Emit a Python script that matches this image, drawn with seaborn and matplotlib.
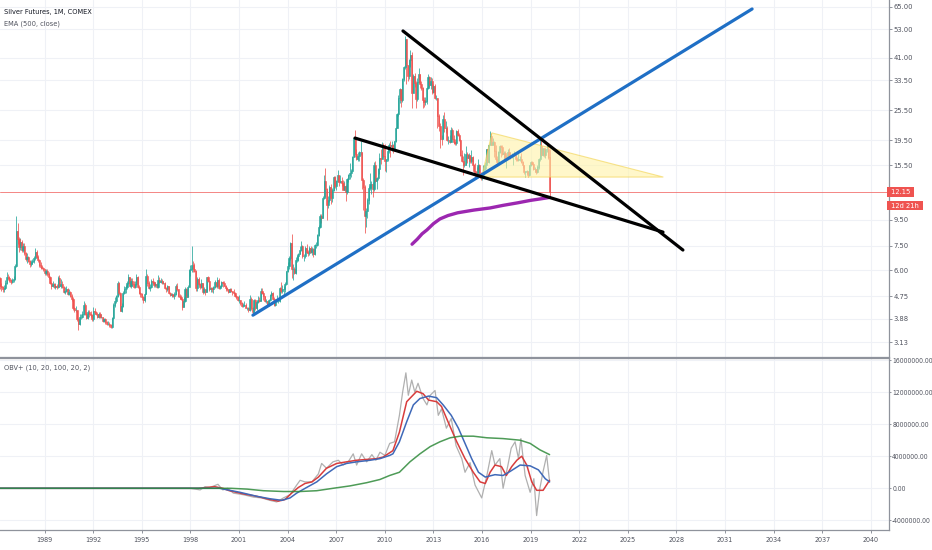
import numpy as np
import pandas as pd
import matplotlib
matplotlib.use("Agg")
import matplotlib.pyplot as plt
import matplotlib.transforms as mtransforms
from matplotlib import font_manager
from matplotlib.ticker import NullLocator
import seaborn as sns

# Monthly silver futures candles, Jan 1986 .. Mar 2020 (open = previous close)
start_year = 1986
closes = [
    6.05, 5.85, 5.60, 5.20, 5.15, 5.05, 5.10, 5.35, 5.65, 5.60, 5.50, 5.40,  # 1986
    5.50, 5.55, 6.25, 8.60, 7.95, 7.40, 7.75, 7.20, 7.45, 7.00, 6.65, 6.75,  # 1987
    6.55, 6.35, 6.45, 6.50, 6.70, 7.10, 6.80, 6.60, 6.30, 6.20, 6.15, 6.05,  # 1988
    5.85, 5.95, 5.80, 5.65, 5.35, 5.20, 5.30, 5.15, 5.20, 5.15, 5.60, 5.20,  # 1989
    5.30, 5.15, 4.95, 5.00, 5.05, 4.85, 4.95, 4.75, 4.65, 4.25, 4.20, 4.20,  # 1990
    3.85, 3.70, 3.95, 3.95, 4.05, 4.40, 4.05, 3.90, 4.10, 4.05, 4.00, 3.85,  # 1991
    4.15, 4.10, 4.05, 3.95, 4.05, 3.95, 3.95, 3.80, 3.85, 3.75, 3.70, 3.70,  # 1992
    3.65, 3.60, 3.90, 4.40, 4.55, 4.75, 5.35, 4.90, 4.15, 4.35, 4.90, 5.05,  # 1993
    5.15, 5.35, 5.65, 5.20, 5.45, 5.30, 5.15, 5.30, 5.65, 5.15, 4.90, 4.85,  # 1994
    4.70, 4.60, 4.85, 5.70, 5.35, 5.10, 5.15, 5.45, 5.40, 5.25, 5.30, 5.15,  # 1995
    5.50, 5.40, 5.45, 5.35, 5.35, 5.10, 5.05, 5.20, 4.90, 4.80, 4.85, 4.75,  # 1996
    4.85, 5.20, 5.05, 4.75, 4.70, 4.65, 4.30, 4.55, 5.05, 4.70, 5.15, 6.00,  # 1997
    6.05, 6.30, 6.05, 5.95, 5.10, 5.55, 5.30, 5.15, 5.35, 4.95, 5.05, 4.95,  # 1998
    5.65, 5.45, 5.05, 5.10, 5.05, 5.15, 5.40, 5.20, 5.50, 5.10, 5.20, 5.40,  # 1999
    5.35, 5.20, 5.10, 5.05, 4.95, 5.05, 5.00, 4.95, 4.90, 4.75, 4.70, 4.60,  # 2000
    4.60, 4.45, 4.35, 4.40, 4.40, 4.25, 4.25, 4.20, 4.65, 4.25, 4.10, 4.60,  # 2001
    4.25, 4.50, 4.60, 4.55, 5.00, 4.90, 4.75, 4.55, 4.55, 4.40, 4.60, 4.80,  # 2002
    4.90, 4.65, 4.40, 4.55, 4.55, 4.55, 5.10, 5.00, 5.05, 5.05, 5.30, 5.95,  # 2003
    6.25, 6.70, 7.70, 6.05, 6.10, 5.85, 6.60, 6.85, 6.95, 7.20, 7.45, 6.85,  # 2004
    6.85, 7.35, 7.10, 7.00, 7.35, 7.10, 7.25, 6.95, 7.55, 7.55, 8.25, 8.90,  # 2005
    9.80, 9.60, 11.50, 13.50, 12.50, 10.80, 11.30, 12.80, 11.50, 12.40, 14.00, 12.90,  # 2006
    13.45, 14.25, 13.30, 13.50, 13.20, 12.45, 12.90, 12.15, 13.70, 14.25, 14.50, 14.80,  # 2007
    16.80, 19.80, 17.20, 16.50, 16.90, 17.50, 17.50, 13.60, 12.80, 9.80, 10.30, 11.30,  # 2008
    12.60, 13.10, 13.10, 12.55, 15.60, 13.50, 13.80, 15.00, 16.60, 16.40, 18.60, 16.90,  # 2009
    16.20, 16.40, 17.60, 18.60, 18.40, 18.70, 18.00, 19.40, 21.80, 24.70, 28.40, 30.90,  # 2010
    27.90, 34.00, 37.80, 48.60, 38.30, 34.70, 40.10, 41.90, 29.90, 34.90, 32.70, 28.20,  # 2011
    33.00, 35.50, 32.50, 31.20, 27.90, 27.50, 27.80, 31.20, 34.60, 32.20, 33.40, 30.00,  # 2012
    31.80, 28.40, 28.40, 24.20, 22.20, 19.70, 19.60, 23.60, 21.70, 21.80, 19.50, 19.50,  # 2013
    19.20, 21.40, 19.70, 19.10, 19.00, 21.10, 20.40, 19.50, 17.10, 16.20, 15.50, 15.50,  # 2014
    17.20, 16.60, 17.00, 16.10, 16.80, 15.60, 14.70, 14.60, 14.50, 15.60, 14.10, 13.80,  # 2015
    14.20, 15.00, 15.50, 17.90, 16.00, 18.70, 20.30, 18.70, 19.20, 17.70, 16.50, 16.00,  # 2016
    17.50, 18.40, 18.30, 17.20, 17.30, 16.60, 16.60, 17.50, 16.70, 16.70, 16.90, 17.10,  # 2017
    17.30, 16.50, 16.30, 16.40, 16.40, 16.00, 15.50, 14.60, 14.70, 14.70, 14.20, 15.50,  # 2018
    16.00, 15.70, 15.00, 15.00, 14.60, 15.30, 16.40, 18.40, 17.00, 18.10, 17.00, 17.90,  # 2019
    18.00, 16.80, 12.15,  # 2020
]
highs = [
    6.25, 6.10, 5.95, 5.65, 5.35, 5.20, 5.25, 5.50, 5.90, 5.80, 5.70, 5.55,  # 1986
    5.60, 5.70, 6.35, 9.80, 9.20, 8.10, 8.05, 7.90, 7.70, 7.65, 7.10, 7.00,  # 1987
    6.85, 6.60, 6.60, 6.65, 6.85, 7.35, 7.20, 6.90, 6.65, 6.45, 6.30, 6.20,  # 1988
    6.10, 6.10, 6.05, 5.90, 5.70, 5.40, 5.45, 5.35, 5.35, 5.30, 5.70, 5.75,  # 1989
    5.55, 5.45, 5.20, 5.15, 5.20, 5.10, 5.05, 5.00, 4.85, 4.70, 4.30, 4.35,  # 1990
    4.20, 3.90, 4.05, 4.05, 4.15, 4.55, 4.45, 4.10, 4.20, 4.20, 4.15, 4.05,  # 1991
    4.30, 4.25, 4.15, 4.10, 4.10, 4.10, 4.05, 3.95, 3.90, 3.90, 3.80, 3.80,  # 1992
    3.75, 3.70, 3.95, 4.45, 4.70, 4.80, 5.45, 5.40, 4.95, 4.45, 5.00, 5.20,  # 1993
    5.25, 5.45, 5.80, 5.65, 5.60, 5.60, 5.45, 5.45, 5.80, 5.70, 5.25, 4.95,  # 1994
    4.90, 4.75, 4.90, 6.10, 5.80, 5.45, 5.30, 5.55, 5.60, 5.45, 5.40, 5.35,  # 1995
    5.75, 5.65, 5.60, 5.55, 5.45, 5.40, 5.15, 5.25, 5.20, 4.95, 4.90, 4.85,  # 1996
    4.95, 5.30, 5.35, 5.05, 4.85, 4.80, 4.65, 4.70, 5.15, 5.10, 5.25, 6.10,  # 1997
    6.30, 7.50, 6.50, 6.40, 6.00, 5.65, 5.65, 5.35, 5.55, 5.35, 5.15, 5.05,  # 1998
    5.65, 5.70, 5.50, 5.15, 5.15, 5.20, 5.50, 5.40, 5.65, 5.60, 5.25, 5.45,  # 1999
    5.45, 5.45, 5.25, 5.15, 5.05, 5.10, 5.10, 5.00, 5.05, 4.95, 4.80, 4.75,  # 2000
    4.80, 4.60, 4.50, 4.45, 4.55, 4.45, 4.30, 4.30, 4.80, 4.70, 4.30, 4.65,  # 2001
    4.65, 4.55, 4.75, 4.70, 5.10, 5.10, 4.95, 4.70, 4.65, 4.55, 4.65, 4.85,  # 2002
    5.00, 4.95, 4.70, 4.60, 4.80, 4.65, 5.15, 5.40, 5.25, 5.20, 5.40, 5.99,  # 2003
    6.45, 6.85, 7.75, 8.30, 6.35, 6.20, 6.75, 6.95, 7.05, 7.45, 7.80, 7.55,  # 2004
    6.95, 7.50, 7.60, 7.20, 7.45, 7.50, 7.40, 7.35, 7.60, 7.75, 8.35, 9.05,  # 2005
    9.95, 10.00, 11.80, 14.20, 15.20, 12.60, 11.80, 13.00, 13.10, 12.60, 14.10, 14.10,  # 2006
    13.55, 14.90, 14.20, 14.20, 13.90, 13.55, 13.50, 13.00, 13.80, 14.40, 15.80, 15.00,  # 2007
    16.90, 20.00, 21.30, 18.00, 17.50, 17.70, 19.40, 17.50, 13.80, 13.00, 10.50, 11.50,  # 2008
    12.90, 14.50, 13.50, 13.40, 16.00, 16.20, 14.00, 15.10, 17.40, 17.90, 19.20, 18.90,  # 2009
    18.80, 16.50, 17.90, 19.00, 19.40, 19.40, 18.75, 19.40, 21.90, 24.90, 29.30, 31.30,  # 2010
    31.00, 34.20, 38.20, 49.80, 48.50, 38.60, 40.50, 44.20, 43.40, 35.30, 35.70, 33.20,  # 2011
    34.10, 37.50, 35.50, 33.20, 31.40, 28.90, 28.70, 31.60, 35.40, 34.90, 34.40, 34.20,  # 2012
    32.50, 32.30, 29.20, 28.40, 24.60, 22.70, 20.50, 24.50, 25.10, 23.10, 22.10, 20.20,  # 2013
    20.50, 22.00, 21.80, 20.40, 19.60, 21.30, 21.60, 20.70, 19.60, 17.80, 16.90, 17.30,  # 2014
    18.50, 17.50, 17.30, 17.10, 17.80, 16.90, 15.70, 15.80, 15.30, 16.50, 15.70, 14.60,  # 2015
    14.60, 15.60, 16.00, 18.00, 17.80, 18.80, 21.20, 20.70, 19.80, 19.30, 18.70, 16.90,  # 2016
    17.60, 18.60, 18.60, 18.70, 17.60, 17.70, 17.00, 17.90, 18.20, 17.50, 17.40, 17.20,  # 2017
    17.70, 17.40, 16.80, 17.40, 16.90, 17.30, 16.20, 15.50, 14.80, 14.90, 14.80, 15.60,  # 2018
    16.20, 16.20, 15.80, 15.30, 14.90, 15.50, 16.60, 19.60, 19.70, 18.20, 18.20, 18.00,  # 2019
    18.90, 18.90, 17.90,  # 2020
]
lows = [
    5.85, 5.75, 5.50, 5.05, 5.00, 4.95, 4.95, 5.05, 5.30, 5.50, 5.40, 5.30,  # 1986
    5.35, 5.40, 5.50, 6.20, 7.60, 7.10, 7.20, 7.10, 7.10, 6.90, 6.55, 6.40,  # 1987
    6.45, 6.20, 6.25, 6.35, 6.40, 6.60, 6.70, 6.45, 6.20, 6.05, 6.05, 5.95,  # 1988
    5.75, 5.75, 5.70, 5.55, 5.30, 5.05, 5.15, 5.10, 5.05, 5.05, 5.10, 5.15,  # 1989
    5.10, 5.10, 4.90, 4.85, 4.95, 4.80, 4.80, 4.70, 4.55, 4.20, 4.10, 4.10,  # 1990
    3.80, 3.50, 3.65, 3.85, 3.90, 4.00, 4.00, 3.85, 3.85, 3.95, 3.95, 3.80,  # 1991
    3.80, 4.05, 4.00, 3.90, 3.90, 3.90, 3.90, 3.75, 3.75, 3.70, 3.65, 3.65,  # 1992
    3.60, 3.55, 3.55, 3.85, 4.30, 4.45, 4.70, 4.80, 4.15, 4.10, 4.30, 4.85,  # 1993
    4.90, 5.05, 5.30, 5.15, 5.10, 5.20, 5.10, 5.10, 5.25, 5.10, 4.85, 4.70,  # 1994
    4.60, 4.45, 4.50, 4.85, 5.20, 5.05, 5.00, 5.10, 5.30, 5.15, 5.15, 5.10,  # 1995
    5.10, 5.35, 5.35, 5.30, 5.30, 5.05, 4.95, 5.00, 4.85, 4.75, 4.70, 4.70,  # 1996
    4.65, 4.80, 5.00, 4.70, 4.65, 4.60, 4.20, 4.30, 4.50, 4.70, 4.70, 5.15,  # 1997
    5.70, 5.90, 5.90, 5.90, 5.00, 5.00, 5.25, 5.05, 5.10, 4.85, 4.90, 4.80,  # 1998
    4.95, 5.40, 5.00, 4.95, 4.95, 4.90, 5.10, 5.15, 5.10, 5.05, 5.05, 5.15,  # 1999
    5.15, 5.20, 5.00, 5.00, 4.90, 4.95, 4.95, 4.80, 4.85, 4.70, 4.65, 4.55,  # 2000
    4.45, 4.40, 4.30, 4.30, 4.35, 4.25, 4.20, 4.10, 4.15, 4.20, 4.05, 4.10,  # 2001
    4.20, 4.20, 4.45, 4.50, 4.55, 4.85, 4.60, 4.50, 4.45, 4.35, 4.35, 4.55,  # 2002
    4.75, 4.60, 4.35, 4.35, 4.50, 4.45, 4.50, 4.90, 4.90, 4.85, 4.95, 5.25,  # 2003
    5.90, 6.10, 6.60, 5.60, 5.50, 5.80, 5.80, 6.45, 6.55, 6.95, 7.15, 6.70,  # 2004
    6.50, 6.70, 7.05, 6.85, 6.90, 7.00, 6.90, 6.75, 6.90, 7.35, 7.45, 8.15,  # 2005
    8.80, 9.20, 9.60, 11.45, 11.60, 9.50, 10.50, 11.10, 10.90, 11.10, 12.30, 12.60,  # 2006
    12.40, 13.40, 12.90, 13.20, 12.90, 12.40, 12.40, 11.20, 12.00, 13.40, 13.70, 13.90,  # 2007
    14.70, 16.70, 16.80, 16.30, 16.20, 16.10, 17.00, 12.50, 10.40, 8.40, 8.90, 9.60,  # 2008
    10.90, 12.40, 12.00, 11.70, 12.30, 13.40, 12.50, 13.60, 14.30, 15.70, 16.40, 16.70,  # 2009
    14.80, 14.60, 16.10, 17.40, 16.80, 17.60, 17.40, 17.60, 19.10, 21.80, 24.20, 27.20,  # 2010
    26.30, 27.40, 33.30, 37.00, 32.30, 33.20, 34.00, 37.60, 26.10, 30.10, 31.50, 26.10,  # 2011
    27.80, 32.80, 31.20, 30.60, 26.10, 26.20, 26.70, 27.10, 30.90, 31.50, 31.00, 29.70,  # 2012
    29.90, 28.20, 27.90, 21.80, 21.10, 18.20, 18.70, 19.60, 21.00, 20.70, 19.40, 18.80,  # 2013
    19.00, 19.10, 19.60, 18.80, 18.70, 18.60, 20.20, 19.30, 16.90, 16.00, 14.20, 15.30,  # 2014
    15.60, 15.90, 15.30, 15.90, 15.80, 15.50, 14.40, 14.00, 14.30, 14.40, 13.90, 13.60,  # 2015
    13.60, 13.90, 14.90, 15.00, 15.80, 15.90, 18.60, 18.60, 18.60, 16.70, 16.30, 15.60,  # 2016
    15.90, 17.30, 16.80, 17.00, 16.20, 16.50, 15.20, 16.50, 16.60, 16.50, 16.60, 15.60,  # 2017
    16.90, 16.20, 16.10, 16.20, 16.10, 15.90, 15.20, 14.30, 13.90, 14.30, 13.90, 14.10,  # 2018
    15.40, 15.50, 14.90, 14.60, 14.30, 14.50, 15.00, 16.20, 16.90, 16.90, 16.80, 16.60,  # 2019
    17.50, 16.50, 11.60,  # 2020
]
last_price = 12.15
countdown = "12d 21h"

# EMA(500, close)
ema_dates = [2011.68, 2012.0, 2012.3, 2012.6, 2013.0, 2013.4, 2013.9, 2014.5,
             2015.5, 2016.5, 2017.3, 2018.2, 2019.0, 2019.6, 2020.17]
ema_values = [7.6, 7.95, 8.35, 8.65, 9.15, 9.55, 9.85, 10.1,
              10.35, 10.55, 10.8, 11.05, 11.3, 11.45, 11.6]

# hand drawn trend lines and triangle (date, price)
blue_dates, blue_prices = [2001.86, 2032.67], [4.0, 63.8]
upper_dates, upper_prices = [2011.12, 2028.4], [52.3, 7.21]
lower_dates, lower_prices = [2008.16, 2027.17], [19.85, 8.48]
tri_dates, tri_prices = [2015.98, 2016.61, 2027.19], [13.95, 20.8, 13.95]

# OBV+ panel (values in millions)
obv_dates = [1986.0, 1998.0, 1998.6, 1998.9, 1999.2, 1999.7, 2000.0, 2000.3, 2000.65,
             2001.27, 2001.9, 2002.4, 2002.9, 2003.33, 2003.74, 2004.15, 2004.56,
             2004.77, 2005.07, 2005.5, 2005.9, 2006.1, 2006.4, 2006.8, 2007.13,
             2007.43, 2007.74, 2008.05, 2008.26, 2008.57, 2008.88, 2009.2, 2009.45,
             2009.7, 2010.0, 2010.3, 2010.6, 2010.9, 2011.1, 2011.3, 2011.45, 2011.66,
             2011.85, 2012.05, 2012.36, 2012.6, 2012.8, 2013.1, 2013.3, 2013.5, 2013.8,
             2014.1, 2014.4, 2014.75, 2014.95, 2015.26, 2015.57, 2015.98, 2016.3,
             2016.6, 2016.8, 2017.1, 2017.3, 2017.6, 2017.8, 2018.04, 2018.25, 2018.4,
             2018.66, 2018.97, 2019.2, 2019.37, 2019.57, 2019.77, 2019.99, 2020.17]
obv_values = [0, 0, -0.2, 0.2, 0.1, 0.5, -0.2, 0.0, -0.6,
              -0.8, -1.1, -1.2, -1.5, -1.7, -1.2, -0.8, 0.4,
              1.0, 0.8, 0.8, 1.8, 3.1, 2.5, 3.3, 3.5,
              2.9, 3.3, 4.3, 2.9, 4.3, 3.3, 4.2, 3.5,
              4.5, 4.1, 5.6, 5.8, 9.1, 12.0, 14.4, 11.6, 13.5,
              12.0, 13.1, 11.2, 10.4, 11.6, 12.2, 9.1, 9.9, 7.5,
              8.7, 5.3, 3.7, 2.0, 3.2, 0.4, -1.2, 1.6,
              4.7, 2.9, 3.7, 0.0, 2.9, 5.0, 5.8, 3.7, 6.2,
              1.6, -0.5, 1.2, -3.4, 0.0, 2.1, 4.1, 0.8]

fast_dates = [1986.0, 1998.5, 1999.5, 2000.0, 2000.4, 2001.27, 2002.1, 2002.9, 2003.43,
              2003.84, 2004.25, 2004.66, 2005.07, 2005.5, 2005.9, 2006.4, 2007.03,
              2007.64, 2008.26, 2008.88, 2009.5, 2009.9, 2010.5, 2010.9, 2011.35,
              2011.97, 2012.36, 2012.7, 2013.2, 2013.5, 2013.9, 2014.44, 2014.95,
              2015.46, 2015.88, 2016.2, 2016.5, 2016.8, 2017.2, 2017.5, 2017.83,
              2018.15, 2018.45, 2018.76, 2019.07, 2019.37, 2019.77, 2020.17]
fast_values = [0, 0, 0.2, 0.0, -0.3, -0.7, -1.0, -1.4, -1.6,
               -1.4, -0.6, 0.1, 0.6, 0.8, 1.4, 2.5, 3.1,
               3.3, 3.5, 3.6, 3.7, 3.9, 4.7, 7.0, 10.8,
               12.1, 11.8, 11.0, 10.8, 10.2, 8.3, 5.8, 3.7,
               2.0, 0.8, 0.6, 2.0, 2.9, 2.7, 1.6, 2.7,
               3.5, 4.0, 2.9, 0.8, -0.25, -0.25, 1.0]

slow_dates = [1986.0, 1999.8, 2001.06, 2002.1, 2002.9, 2003.64, 2004.15, 2004.56, 2005.17,
              2005.8, 2006.4, 2007.03, 2007.64, 2008.26, 2009.1, 2009.7, 2010.3, 2010.5,
              2010.9, 2011.35, 2011.76, 2012.17, 2012.7, 2013.2, 2013.6, 2014.1, 2014.54,
              2014.95, 2015.36, 2015.78, 2016.2, 2016.8, 2017.3, 2017.73, 2018.35,
              2018.97, 2019.48, 2019.9, 2020.17]
slow_values = [0, 0, -0.5, -1.0, -1.3, -1.5, -1.2, -0.6, 0.1,
               0.8, 1.8, 2.7, 3.1, 3.3, 3.5, 3.7, 4.1, 4.3,
               5.8, 8.3, 10.4, 11.2, 11.5, 11.3, 10.4, 9.1, 7.5,
               5.6, 3.7, 2.0, 1.4, 1.7, 1.6, 2.1, 2.9,
               2.8, 2.3, 1.2, 0.8]

long_dates = [1986.0, 2000.5, 2001.5, 2002.5, 2003.74, 2004.77, 2005.8, 2006.8, 2007.85,
              2008.88, 2009.7, 2010.3, 2010.9, 2011.55, 2012.17, 2012.8, 2013.4, 2014.03,
              2014.65, 2015.46, 2016.3, 2017.3, 2018.35, 2018.97, 2019.57, 2020.17]
long_values = [0, 0, -0.1, -0.3, -0.4, -0.4, -0.3, 0.0, 0.3,
               0.7, 1.1, 1.6, 2.0, 3.3, 4.3, 5.2, 5.8, 6.3,
               6.5, 6.5, 6.3, 6.2, 6.0, 5.6, 4.8, 4.2]

price_ticks = [3.13, 3.88, 4.75, 6.00, 7.50, 9.50, 15.50, 19.50, 25.50, 33.50, 41.00, 53.00, 65.00]
obv_ticks = [-4, 0, 4, 8, 12, 16]
year_ticks = list(range(1989, 2041, 3))

# ---- style ----
sns.set_theme(style="white")
# prefer a narrow face, like the chart's axis font
stretch = "normal"
font = "Liberation Sans"
for f in font_manager.fontManager.ttflist:
    if "Narrow" in f.name or "Condensed" in f.name:
        font = f.name
        break
    if f.stretch in ("condensed", "semi-condensed") and f.name in ("DejaVu Sans", "Open Sans", "Roboto", "Noto Sans"):
        font, stretch = f.name, f.stretch
        break
plt.rcParams["font.family"] = [font, "DejaVu Sans"]
plt.rcParams["font.stretch"] = stretch

GREEN, RED = "#26a69a", "#ef5350"
GRID, AXIS, LABEL = "#eff1f6", "#8f939c", "#50535e"

fig = plt.figure(figsize=(9.32, 5.5), dpi=100)
renderer = fig.canvas.get_renderer()


def fit_size(sample, width_px, start=7.5):
    t = fig.text(0, 0, sample, fontsize=start)
    w = t.get_window_extent(renderer).width
    t.remove()
    return min(start, start * width_px / w)


fs = fit_size("65.00", 19)
fs_obv = fit_size("12000000.00", 40)
fs_year = fit_size("2040", 16)
fs_leg = fit_size("Silver Futures, 1M, COMEX", 88, 7.5)

ax1 = fig.add_axes([0, 1 - 357 / 550, 889 / 932, 357 / 550])
ax2 = fig.add_axes([0, 20 / 550, 889 / 932, 172 / 550])
xlim = (1986.247, 2041.12)

# ---- price panel ----
df = pd.DataFrame({"date": start_year + np.arange(len(closes)) / 12,
                   "close": closes, "high": highs, "low": lows})
df["open"] = df["close"].shift(1).fillna(df["close"])
df["lo"] = df[["open", "close"]].min(axis=1)
df["hi"] = df[["open", "close"]].max(axis=1)
df["high"] = df[["high", "hi"]].max(axis=1)
df["low"] = df[["low", "lo"]].min(axis=1)
colors = np.where(df["close"] >= df["open"], GREEN, RED)

ax1.set_yscale("log")
ax1.vlines(df["date"], df["low"], df["high"], colors=colors, lw=0.55, zorder=2)
ax1.bar(df["date"], df["hi"] - df["lo"], bottom=df["lo"], width=0.068,
        color=colors, edgecolor=colors, linewidth=0.4, zorder=2.1)

ax1.axhline(last_price, color=RED, lw=0.7, alpha=0.7, zorder=1.5)

ax1.fill(tri_dates, tri_prices, facecolor="#fff3a8", alpha=0.6, edgecolor="#f2d24b",
         lw=0.8, zorder=3)
sns.lineplot(x=ema_dates, y=ema_values, ax=ax1, color="#9c27b0", lw=2.4,
             solid_capstyle="round", zorder=4)
ax1.plot(blue_dates, blue_prices, color="#1f6fc5", lw=2.3, solid_capstyle="round", zorder=5)
ax1.plot(upper_dates, upper_prices, color="black", lw=2.3, solid_capstyle="round", zorder=5)
ax1.plot(lower_dates, lower_prices, color="black", lw=2.3, solid_capstyle="round", zorder=5)

ax1.set_xlim(*xlim)
ax1.set_ylim(2.74, 69.2)
ax1.set_yticks(price_ticks)
ax1.set_yticklabels([f"{v:.2f}" for v in price_ticks])
ax1.yaxis.set_minor_locator(NullLocator())
ax1.set_xticks(year_ticks)
ax1.tick_params(axis="x", bottom=False, labelbottom=False)

# price label boxes on the axis
trans = mtransforms.blended_transform_factory(ax1.transAxes, ax1.transData)
ax1.text(1.0, last_price, f" {last_price:.2f} ", transform=trans, ha="left", va="center",
         color="white", fontsize=fs, clip_on=False, zorder=10,
         bbox=dict(boxstyle="square,pad=0.25", fc=RED, ec="none"))
ax1.annotate(f" {countdown} ", xy=(1.0, last_price), xycoords=trans, xytext=(0, -9.5),
             textcoords="offset points", ha="left", va="center", color="white",
             fontsize=fs, annotation_clip=False, zorder=10,
             bbox=dict(boxstyle="square,pad=0.25", fc=RED, ec="none"))

# ---- OBV panel ----
sns.lineplot(x=obv_dates, y=np.array(obv_values) * 1e6, ax=ax2, color="#b0b0b0", lw=0.9)
sns.lineplot(x=fast_dates, y=np.array(fast_values) * 1e6, ax=ax2, color="#d83c3c", lw=1.1)
sns.lineplot(x=slow_dates, y=np.array(slow_values) * 1e6, ax=ax2, color="#3f69b8", lw=1.1)
sns.lineplot(x=long_dates, y=np.array(long_values) * 1e6, ax=ax2, color="#2f8a3a",
             lw=1.1, alpha=0.85)

ax2.set_xlim(*xlim)
ax2.set_ylim(-5.2e6, 16.25e6)
ax2.set_yticks([v * 1e6 for v in obv_ticks])
ax2.set_yticklabels([f"{v * 1000000:.2f}" for v in obv_ticks])
ax2.set_xticks(year_ticks)
ax2.set_xticklabels([str(y) for y in year_ticks])

for ax in (ax1, ax2):
    ax.grid(True, color=GRID, lw=0.8, zorder=0)
    ax.set_axisbelow(True)
    ax.set_xlabel("")
    ax.set_ylabel("")
    ax.yaxis.tick_right()
    ax.tick_params(axis="y", right=True, left=False, labelright=True, labelleft=False,
                   length=2.2, width=0.7, color=AXIS, labelcolor=LABEL, pad=1.2)
    ax.spines["left"].set_visible(False)
    ax.spines["top"].set_visible(False)
    for s in ("right", "bottom"):
        ax.spines[s].set_color(AXIS)
        ax.spines[s].set_linewidth(0.9)
ax1.tick_params(axis="y", labelsize=fs)
ax2.tick_params(axis="y", labelsize=fs_obv, length=1.5, pad=0.8)
ax2.spines["top"].set_visible(True)
ax2.spines["top"].set_color(AXIS)
ax2.spines["top"].set_linewidth(0.9)
ax2.tick_params(axis="x", bottom=True, length=2.2, width=0.7, color=AXIS,
                labelsize=fs_year, labelcolor=LABEL, pad=3)

# legends
fig.text(4 / 932, 1 - 12 / 550, "Silver Futures, 1M, COMEX", fontsize=fs_leg,
         color="#131722", va="center", ha="left")
fig.text(4 / 932, 1 - 24 / 550, "EMA (500, close)", fontsize=fs_leg,
         color="#50535e", va="center", ha="left")
fig.text(4 / 932, 1 - 368 / 550, "OBV+ (10, 20, 100, 20, 2)", fontsize=fs_leg,
         color="#50535e", va="center", ha="left")

fig.savefig("out.png", dpi=100, facecolor="white")
